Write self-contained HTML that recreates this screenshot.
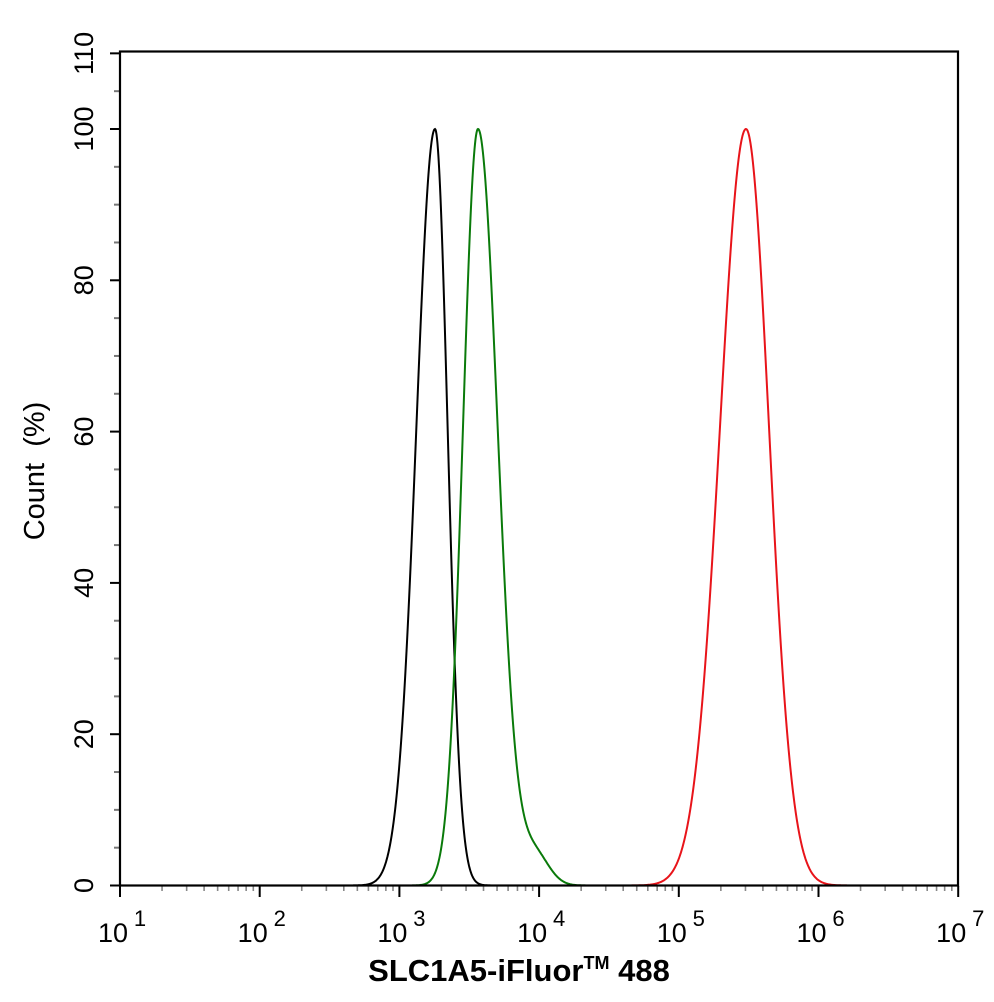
<!DOCTYPE html>
<html><head><meta charset="utf-8"><style>
body{margin:0;background:#fff}
svg{display:block;font-family:"Liberation Sans",Arial,sans-serif}
</style></head><body>
<svg id="s" width="994" height="1002" xmlns="http://www.w3.org/2000/svg">
<rect width="994" height="1002" fill="#fff"/>
<g id="ax"></g>
<rect x="120" y="51.5" width="838" height="834" fill="none" stroke="#000" stroke-width="2.2"/>
<text x="519" y="981" font-size="31" font-weight="bold" text-anchor="middle">SLC1A5-iFluor<tspan font-size="18" dy="-12">TM</tspan><tspan dy="12"> 488</tspan></text>
<text transform="translate(44,471) rotate(-90)" font-size="29" text-anchor="middle" xml:space="preserve">Count  (%)</text>
</svg>
<script>
const ns="http://www.w3.org/2000/svg",ax=document.getElementById('ax');
function el(t,a,txt){const e=document.createElementNS(ns,t);for(const k in a)e.setAttribute(k,a[k]);if(txt!==undefined)e.textContent=txt;ax.appendChild(e);return e;}
const Y0=885.5,SY=7.565,X0=120,DX=139.7;
for(let v=0;v<=110;v+=5){const y=Y0-v*SY;
 if(v%20==0||v==110){el('line',{x1:110,x2:120,y1:y,y2:y,stroke:'#000','stroke-width':2});}
 else el('line',{x1:114,x2:120,y1:y,y2:y,stroke:'#777','stroke-width':2});
}
[0,20,40,60,80,100,110].forEach(v=>{const y=Y0-v*SY;el('text',{transform:`translate(93,${y}) rotate(-90)`,'font-size':27,'text-anchor':'middle'},v);});
for(let d=1;d<=7;d++){const x=X0+(d-1)*DX;el('line',{x1:x,x2:x,y1:886,y2:897,stroke:'#000','stroke-width':2});
 el('text',{x:x-7,y:942,'font-size':27,'text-anchor':'middle'},'10');
 el('text',{x:x+20,y:926,'font-size':22,'text-anchor':'middle'},d);
 if(d<7)for(let m=2;m<=9;m++){const xm=x+Math.log10(m)*DX;el('line',{x1:xm,x2:xm,y1:886,y2:891,stroke:'#888','stroke-width':1.6});}
}
function curve(pk,sl,sr,col,extra){let p=[];for(let x=121;x<957;x+=0.5){const s=x<pk?sl:sr;let v=100*Math.exp(-((x-pk)**2)/(2*s*s));if(extra)v+=extra(x);v=Math.min(v,100);p.push(x.toFixed(1)+','+(Y0-v*SY).toFixed(1));}
 el('polyline',{points:p.join(' '),fill:'none',stroke:col,'stroke-width':2});}
curve(435,18.6,12.6,'#000');
curve(478,15,19.6,'#0a7a0a',x=>x>478?4*Math.exp(-((x-535)**2)/(2*14*14)):0);
curve(746,26,23,'#e8141a');
</script>
</body></html>
